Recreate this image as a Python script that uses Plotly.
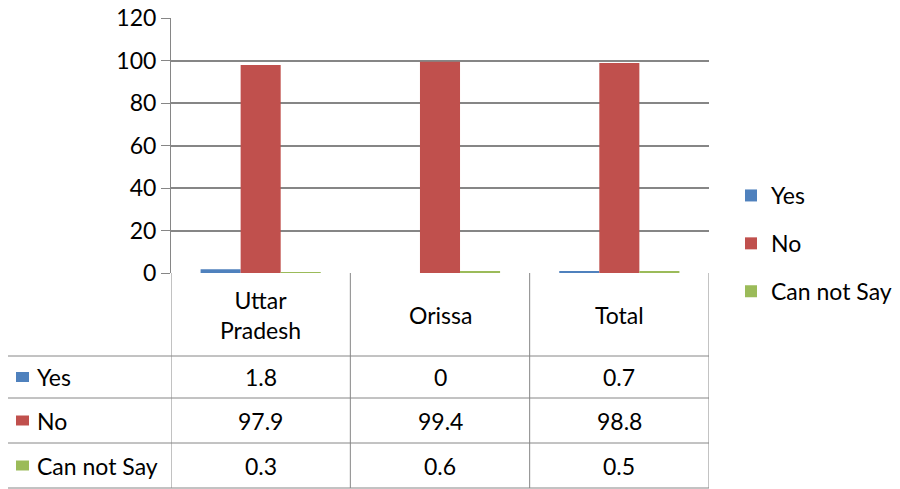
import plotly.graph_objects as go

categories = ["Uttar<br>Pradesh", "Orissa", "Total"]
series_names = ["Yes", "No", "Can not Say"]
yes_vals = [1.8, 0, 0.7]
no_vals = [97.9, 99.4, 98.8]
cns_vals = [0.3, 0.6, 0.5]
colors = ["#4F81BD", "#C0504D", "#9BBB59"]
y_ticks = [0, 20, 40, 60, 80, 100, 120]

series_vals = [yes_vals, no_vals, cns_vals]

# page has an 8px body margin; work in page pixels and convert
OFF = 8
W, H = 900 - OFF, 489 - OFF
L, R, T, B = 171 - OFF, 709 - OFF, 18 - OFF, 273 - OFF
FONT = "Lato, Carlito, Calibri, 'Open Sans', sans-serif"
FS = 23
GRID = "#868686"

fig = go.Figure()
for name, vals, c in zip(series_names, series_vals, colors):
    fig.add_trace(go.Bar(x=list(range(len(categories))), y=vals, name=name,
                         marker=dict(color=c, line=dict(width=0)),
                         legendgroup=name))


def py(p):  # page pixel y -> paper
    return (B - (p - OFF)) / (B - T)


def px(p):  # page pixel x -> paper
    return ((p - OFF) - L) / (R - L)


shapes = []
annotations = []
line = dict(color=GRID, width=1)
left_x = 7
row_bounds = [356, 398, 443, 488]
for rb in row_bounds:
    shapes.append(dict(type="line", xref="paper", yref="paper", x0=px(left_x), x1=1,
                       y0=py(rb), y1=py(rb), line=line, layer="above"))
shapes.append(dict(type="line", xref="paper", yref="paper", x0=px(left_x), x1=px(left_x),
                   y0=py(row_bounds[0]), y1=py(row_bounds[-1]), line=line))
for i in range(len(categories) + 1):
    shapes.append(dict(type="line", xref="x", yref="paper", x0=i - 0.5, x1=i - 0.5,
                       y0=0, y1=py(row_bounds[-1]), line=line))

# header row
for i, cat in enumerate(categories):
    annotations.append(dict(x=i, xref="x", y=py((273 + row_bounds[0]) / 2), yref="paper",
                            text=cat, showarrow=False, font=dict(size=FS, family=FONT, color="black"),
                            xanchor="center", yanchor="middle"))
# data rows
for r, (name, vals, c) in enumerate(zip(series_names, series_vals, colors)):
    top, bot = row_bounds[r], row_bounds[r + 1]
    cy = (top + bot) / 2
    shapes.append(dict(type="rect", xref="paper", yref="paper",
                       x0=px(16), x1=px(29), y0=py(cy - 5), y1=py(cy + 5),
                       fillcolor=c, line=dict(width=0)))
    annotations.append(dict(x=px(35), xref="paper", y=py(cy), yref="paper", text=name,
                            showarrow=False, xanchor="left", yanchor="middle",
                            font=dict(size=FS, family=FONT, color="black")))
    for i, v in enumerate(vals):
        annotations.append(dict(x=i, xref="x", y=py(cy), yref="paper", text=f"{v:g}",
                                showarrow=False, xanchor="center", yanchor="middle",
                                font=dict(size=FS, family=FONT, color="black")))

fig.update_layout(
    width=W, height=H,
    margin=dict(l=L, r=W - R, t=T, b=H - B, pad=0, autoexpand=False),
    paper_bgcolor="white", plot_bgcolor="white",
    barmode="group", bargap=0.33, bargroupgap=0,
    font=dict(family=FONT, size=FS, color="black"),
    xaxis=dict(range=[-0.5, len(categories) - 0.5], showticklabels=False, showgrid=False,
               zeroline=False, showline=False, ticks="", automargin=False),
    yaxis=dict(range=[0, 120], tickvals=y_ticks, showgrid=True, gridcolor=GRID, gridwidth=1.5,
               zeroline=False, showline=True, linecolor=GRID, linewidth=1,
               ticks="outside", ticklen=9, tickcolor=GRID, automargin=False,
               ticklabeloverflow="allow",
               tickfont=dict(size=FS, family=FONT, color="black")),
    legend=dict(x=px(731), y=py(174), xanchor="left", yanchor="top",
                traceorder="grouped", tracegroupgap=15,
                font=dict(size=FS, family=FONT, color="black"), bgcolor="rgba(0,0,0,0)"),
    shapes=shapes, annotations=annotations,
)

fig.write_html("out.html")
